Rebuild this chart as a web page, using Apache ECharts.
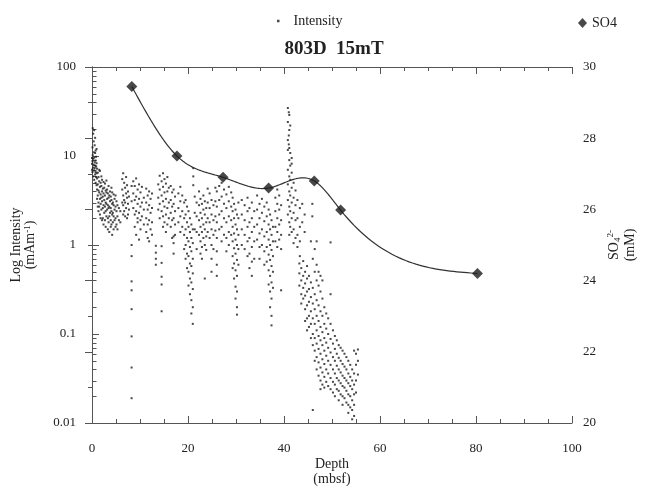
<!DOCTYPE html>
<html><head><meta charset="utf-8">
<script src="https://cdn.jsdelivr.net/npm/echarts@6/dist/echarts.min.js"></script>
<style>html,body{margin:0;padding:0;background:#fff}#c{width:668px;height:492px}</style>
</head><body><div id="c"></div>
<script>
// SO4 pore-water profile (depth mbsf, mM)
const so4Depth = [8.3, 17.7, 27.3, 36.8, 46.3, 51.8, 80.3];
const so4Values = [29.45, 27.5, 26.9, 26.6, 26.8, 25.98, 24.2];

// Minor tick values of the log axis (2..9 per decade)
const logMinorTicks = [0.02, 0.03, 0.04, 0.05, 0.06, 0.07, 0.08, 0.09,
  0.2, 0.3, 0.4, 0.5, 0.6, 0.7, 0.8, 0.9, 2, 3, 4, 5, 6, 7, 8, 9,
  20, 30, 40, 50, 60, 70, 80, 90];

// Intensity rows: [depth, value, value, ...] (mAm^-1)
const intensityNearSurface = [
  [0.0, 9.5, 8.2, 7.0], [0.1, 12.5, 8.8, 6.6], [0.15, 20.5, 10.2], [0.25, 17.8, 9.3, 7.4, 5.9],
  [0.35, 14.6, 11.0, 8.0], [0.45, 19.5, 9.6, 6.9, 5.4], [0.55, 13.2, 8.5, 7.3], [0.65, 16.0, 10.8, 7.8, 6.2],
  [0.75, 11.5, 8.9, 6.6, 5.0], [0.85, 9.8, 7.6, 5.8], [0.95, 12.0, 8.3, 6.4, 4.7], [1.05, 7.2, 5.6, 4.2, 3.3],
  [1.2, 6.5, 4.8, 3.6, 2.7], [1.35, 5.8, 4.1, 3.0, 2.4], [1.5, 7.0, 5.2, 3.9, 2.7], [1.65, 6.8, 4.5, 3.3, 2.2],
  [1.8, 5.0, 3.7, 2.9, 2.0], [1.95, 5.9, 4.6, 3.4, 2.5], [2.1, 5.4, 4.0, 3.1, 1.9], [2.25, 4.3, 3.5, 2.6, 2.0],
  [2.4, 5.1, 3.8, 2.8, 1.7], [2.55, 4.4, 3.2, 2.3], [2.7, 4.9, 3.6, 2.7, 1.9], [2.85, 4.1, 3.0, 2.4, 1.6],
  [3.0, 5.3, 3.9, 2.9, 2.1], [3.15, 4.2, 3.3, 2.5], [3.3, 3.8, 2.8, 2.0, 1.5], [3.45, 4.6, 3.4, 2.6, 1.8],
  [3.6, 3.6, 2.7, 2.1, 1.4], [3.75, 4.0, 3.1, 2.3], [3.9, 3.5, 2.6, 1.9, 1.6], [4.05, 4.4, 3.2, 2.4, 1.7],
  [4.2, 3.9, 2.9, 2.2, 1.3], [4.35, 3.0, 2.3, 1.8], [4.5, 3.7, 2.8, 2.1, 1.5], [4.7, 3.3, 2.5, 1.9],
  [4.9, 3.6, 2.7, 2.0, 1.6], [5.1, 3.1, 2.4, 1.7], [5.3, 2.8, 2.1, 1.5], [5.6, 2.6, 1.9], [5.9, 2.4, 1.8],
  [6.3, 5.5, 4.2, 3.0], [6.5, 6.4, 3.6, 2.8, 2.2], [6.7, 5.0, 3.2, 2.4], [6.9, 4.4, 3.0, 2.1],
  [7.1, 5.8, 3.8, 2.6], [7.3, 4.7, 3.4, 2.0], [7.5, 4.0, 2.9, 2.2], [7.7, 3.5, 2.5],
  [8.25, 4.6, 3.1, 1.0, 0.75, 0.39, 0.31, 0.19, 0.094, 0.042, 0.019]
];
const intensityUpper = [
  [8.6, 5.2, 3.8, 2.6], [8.9, 4.6, 3.2, 2.2, 1.6], [9.2, 5.6, 3.5, 2.4, 1.3], [9.5, 4.2, 2.9, 2.0, 1.8],
  [9.8, 4.8, 3.3, 2.3, 1.15], [10.1, 3.9, 2.7, 1.9, 1.5], [10.4, 4.5, 3.0, 2.1], [10.8, 3.4, 2.5, 1.7],
  [11.3, 4.3, 3.0, 2.0, 1.4], [11.6, 3.6, 2.5, 1.7, 1.2], [11.9, 4.0, 2.8, 1.9, 1.1], [12.2, 3.3, 2.3, 1.5],
  [12.5, 3.8, 2.6, 1.8, 1.3], [13.3, 0.98, 0.82, 0.7, 0.6], [13.8, 4.8, 3.4, 2.5], [14.1, 6.0, 4.2, 2.9, 2.0],
  [14.5, 5.2, 3.6, 2.4, 0.97, 0.63, 0.44, 0.36, 0.18], [14.8, 6.4, 4.5, 3.1, 2.1, 1.6], [15.1, 5.5, 3.9, 2.7, 1.8],
  [15.4, 4.9, 3.3, 2.2, 1.4], [15.7, 5.8, 4.0, 2.6, 1.7], [16.0, 4.4, 3.0, 2.0], [16.4, 4.6, 3.2, 2.3, 1.6],
  [16.7, 3.9, 2.7, 1.9, 1.2], [17.0, 4.2, 2.9, 2.0, 1.25, 1.05, 0.8], [17.3, 3.5, 2.4, 1.7, 1.3],
  [18.0, 3.8, 2.6, 1.8], [18.4, 4.5, 3.1, 2.1, 1.4], [18.8, 3.6, 2.4, 1.6], [19.2, 3.0, 2.0, 1.3, 0.9],
  [19.5, 3.2, 2.2, 1.5, 1.0, 0.7], [19.8, 2.7, 1.8, 1.2, 0.8, 0.55], [20.1, 2.4, 1.6, 1.1, 0.75, 0.5, 0.35],
  [20.4, 2.0, 1.4, 0.95, 0.62, 0.42, 0.28], [20.7, 1.7, 1.2, 0.85, 0.58, 0.38, 0.24, 0.17],
  [21.0, 1.5, 1.05, 0.7, 0.48, 0.32, 0.2, 0.13], [21.1, 7.3, 5.9, 4.7], [21.4, 3.5, 2.3, 1.5],
  [21.8, 3.0, 2.1, 1.4, 0.9], [22.3, 4.0, 2.8, 1.9, 1.3], [22.6, 3.3, 2.3, 1.6, 1.1, 0.8],
  [22.9, 2.9, 2.0, 1.4, 0.95, 0.7], [23.2, 3.6, 2.5, 1.7, 1.2], [23.5, 3.1, 2.2, 1.5, 1.0, 0.42],
  [23.8, 2.6, 1.8, 1.25, 0.88], [24.1, 4.3, 3.0, 2.0, 1.4], [24.5, 3.8, 2.6, 1.8, 1.2],
  [24.9, 3.2, 2.2, 1.5, 1.0, 0.7, 0.5], [25.3, 2.8, 1.9, 1.3, 0.9], [25.7, 4.4, 3.1, 2.1, 1.45],
  [26.0, 4.0, 2.7, 1.8, 1.2, 0.85, 0.6, 0.45], [26.5, 4.6, 3.2, 2.2, 1.5], [27.0, 5.0, 3.5, 2.4, 1.6, 1.1],
  [27.5, 4.2, 2.9, 2.0, 1.3], [28.0, 3.7, 2.6, 1.8, 1.2, 0.85], [28.5, 4.5, 3.1, 2.1, 1.4, 1.0],
  [29.0, 3.9, 2.7, 1.9, 1.3], [29.3, 3.4, 2.4, 1.6, 1.1, 0.75, 0.55], [29.6, 2.9, 2.0, 1.35, 0.92, 0.62, 0.42],
  [29.9, 2.5, 1.7, 1.15, 0.8, 0.52, 0.34, 0.25], [30.2, 2.2, 1.5, 1.0, 0.68, 0.45, 0.3, 0.2, 0.165],
  [30.5, 3.0, 2.0, 1.3, 0.9, 0.6]
];
const intensityMiddle = [
  [31.2, 3.2, 2.2, 1.5, 1.0], [31.8, 2.8, 1.9, 1.3, 0.9], [32.4, 3.4, 2.4, 1.6, 1.1, 0.75],
  [32.8, 2.6, 1.8, 1.2, 0.8, 0.55], [33.3, 3.0, 2.0, 1.4, 0.95, 0.65, 0.45], [33.8, 2.4, 1.6, 1.1, 0.7],
  [34.4, 3.6, 2.5, 1.7, 1.15], [34.9, 2.9, 2.0, 1.35, 0.95, 0.7], [35.4, 3.3, 2.3, 1.5, 1.0],
  [35.9, 2.7, 1.85, 1.25, 0.85, 0.6], [36.4, 3.0, 2.1, 1.4, 0.95, 0.65], [36.8, 2.5, 1.7, 1.15, 0.78, 0.52, 0.36],
  [37.1, 2.2, 1.5, 1.0, 0.68, 0.45, 0.3, 0.2], [37.4, 1.9, 1.3, 0.88, 0.58, 0.38, 0.25, 0.16, 0.125],
  [37.7, 1.6, 1.1, 0.75, 0.5, 0.33], [38.2, 3.4, 2.4, 1.6, 1.1], [38.6, 4.2, 2.9, 2.0, 1.4, 0.95],
  [39.0, 3.6, 2.5, 1.7, 1.15], [39.4, 2.8, 1.9, 1.3, 0.9, 0.31],
  [40.8, 34.6, 24.1, 15.1, 11.7, 7.0, 4.8, 3.2, 2.2], [41.0, 31.0, 17.0, 13.5],
  [41.1, 28.9, 19.6, 12.3, 9.0, 5.9, 4.0, 2.7, 1.8, 1.3], [41.3, 22.0, 10.8, 7.8, 5.4, 3.6, 2.4, 1.6],
  [41.6, 9.5, 8.2, 6.5, 4.4, 3.0, 2.0, 1.4], [42.0, 5.0, 3.4, 2.3, 1.5, 1.05], [42.4, 4.1, 2.8, 1.9, 1.2],
  [42.8, 3.2, 2.0, 1.3, 0.95], [43.3, 2.6, 1.6, 1.1, 0.75], [43.8, 2.9, 1.8], [44.3, 2.2, 1.4], [45.9, 2.9, 2.1]
];
const intensityDeep = [
  [43.2, 0.62, 0.48, 0.35], [43.6, 0.55, 0.4, 0.28, 0.22], [44.0, 0.66, 0.45, 0.33, 0.25],
  [44.4, 0.5, 0.37, 0.27, 0.19, 0.14], [44.8, 0.58, 0.42, 0.3, 0.21, 0.15, 0.11],
  [45.2, 0.45, 0.32, 0.23, 0.16, 0.12], [45.6, 1.1, 0.38, 0.26, 0.18, 0.13, 0.09],
  [46.0, 0.7, 0.33, 0.22, 0.15, 0.1, 0.075, 0.014], [46.4, 0.9, 0.5, 0.28, 0.19, 0.13, 0.09, 0.065, 0.05],
  [46.8, 1.1, 0.6, 0.4, 0.24, 0.16, 0.11, 0.078, 0.055, 0.04], [47.2, 0.5, 0.35, 0.21, 0.14, 0.095, 0.068, 0.048, 0.034],
  [47.6, 0.45, 0.3, 0.18, 0.12, 0.085, 0.06, 0.042, 0.03, 0.024], [48.0, 0.4, 0.25, 0.16, 0.105, 0.075, 0.052, 0.037, 0.027],
  [48.4, 0.2, 0.13, 0.09, 0.065, 0.046, 0.033, 0.025], [48.8, 0.17, 0.115, 0.08, 0.057, 0.04, 0.029],
  [49.2, 0.15, 0.1, 0.07, 0.05, 0.036, 0.026], [49.7, 1.07, 0.28, 0.13, 0.088, 0.062, 0.045, 0.032, 0.024],
  [50.2, 0.11, 0.078, 0.055, 0.04, 0.029, 0.022], [50.6, 0.095, 0.068, 0.05, 0.036, 0.027, 0.02],
  [51.0, 0.085, 0.06, 0.044, 0.032, 0.024], [51.4, 0.075, 0.054, 0.04, 0.03, 0.023, 0.018],
  [51.8, 0.07, 0.05, 0.037, 0.028, 0.021], [52.2, 0.065, 0.046, 0.034, 0.026, 0.02, 0.016],
  [52.6, 0.06, 0.043, 0.032, 0.025, 0.019], [53.0, 0.055, 0.04, 0.03, 0.023, 0.017],
  [53.4, 0.05, 0.036, 0.028, 0.021, 0.016, 0.013], [53.8, 0.045, 0.033, 0.026, 0.02, 0.015],
  [54.2, 0.04, 0.03, 0.024, 0.018, 0.014, 0.011], [54.6, 0.065, 0.036, 0.027, 0.021, 0.016, 0.012],
  [55.0, 0.06, 0.045, 0.03, 0.022], [55.4, 0.067, 0.05, 0.035]
];

function expandRows(rows) {
  const out = [];
  rows.forEach(r => { for (let i = 1; i < r.length; i++) out.push([r[0], r[i]]); });
  return out;
}
const intensityData = [].concat(
  expandRows(intensityNearSurface), expandRows(intensityUpper),
  expandRows(intensityMiddle), expandRows(intensityDeep)
);
const so4Data = so4Depth.map((d, i) => [d, so4Values[i]]);

// Natural cubic spline second derivatives through the SO4 points (for drawing the curve)
function splineM(xs, ys) {
  const n = xs.length, h = [], M = new Array(n).fill(0);
  for (let i = 0; i < n - 1; i++) h.push(xs[i + 1] - xs[i]);
  const a = [], b = [], c = [], r = [];
  for (let i = 1; i < n - 1; i++) {
    a.push(h[i - 1]); b.push(2 * (h[i - 1] + h[i])); c.push(h[i]);
    r.push(6 * ((ys[i + 1] - ys[i]) / h[i] - (ys[i] - ys[i - 1]) / h[i - 1]));
  }
  const m = b.length;
  for (let i = 1; i < m; i++) {
    const f = a[i] / b[i - 1];
    b[i] -= f * c[i - 1]; r[i] -= f * r[i - 1];
  }
  const sol = new Array(m);
  sol[m - 1] = r[m - 1] / b[m - 1];
  for (let i = m - 2; i >= 0; i--) sol[i] = (r[i] - c[i] * sol[i + 1]) / b[i];
  for (let i = 0; i < m; i++) M[i + 1] = sol[i];
  return { M, h };
}
const spl = splineM(so4Depth, so4Values);
function splineAt(i, x) {
  const x0 = so4Depth[i], x1 = so4Depth[i + 1], h = spl.h[i];
  const A = (x1 - x) / h, B = (x - x0) / h;
  return A * so4Values[i] + B * so4Values[i + 1] +
    ((A * A * A - A) * spl.M[i] + (B * B * B - B) * spl.M[i + 1]) * h * h / 6;
}

const FONT = 'Liberation Serif';
const INK = '#222';
const AXIS = '#555';

const chart = echarts.init(document.getElementById('c'), null, { renderer: 'canvas' });
const baseTick = { show: true, inside: true, length: 7, lineStyle: { color: AXIS } };
const baseMinor = { show: true, length: 4, lineStyle: { color: AXIS } };
chart.setOption({
  animation: false,
  backgroundColor: '#fff',
  title: {
    text: '803D  15mT', left: 'center', top: 35,
    textStyle: { fontFamily: FONT, fontSize: 19, fontWeight: 'bold', color: INK }
  },
  legend: [
    { data: ['Intensity'], left: 272, top: 9, icon: 'rect', itemWidth: 2.5, itemHeight: 2.5,
      textStyle: { fontFamily: FONT, fontSize: 14, color: INK, padding: [0, 0, 0, 9] } },
    { data: ['SO4'], left: 573, top: 11, icon: 'diamond', itemWidth: 9, itemHeight: 10,
      textStyle: { fontFamily: FONT, fontSize: 14, color: INK } }
  ],
  grid: { left: 92, right: 96, top: 67, bottom: 69, containLabel: false, outerBoundsMode: 'none' },
  xAxis: [
    { type: 'value', min: 0, max: 100, interval: 20, position: 'bottom',
      name: 'Depth\n(mbsf)', nameLocation: 'middle', nameGap: 34, nameMoveOverlap: false,
      nameTextStyle: { fontFamily: FONT, fontSize: 14, color: INK, lineHeight: 15 },
      axisLine: { show: true, lineStyle: { color: AXIS } },
      axisTick: baseTick, minorTick: Object.assign({ splitNumber: 4 }, baseMinor),
      axisLabel: { fontFamily: FONT, fontSize: 13, color: INK, margin: 19 },
      splitLine: { show: false } },
    { type: 'value', min: 0, max: 100, interval: 20, position: 'top',
      axisLine: { show: true, lineStyle: { color: AXIS } },
      axisTick: baseTick, minorTick: Object.assign({ splitNumber: 4 }, baseMinor),
      axisLabel: { show: false }, splitLine: { show: false } }
  ],
  yAxis: [
    { type: 'log', logBase: 10, min: 0.01, max: 100, position: 'left',
      name: 'Log Intensity\n(mAm{sup|-1})', nameLocation: 'middle', nameGap: 55, nameRotate: 90,
      nameMoveOverlap: false,
      nameTextStyle: { fontFamily: FONT, fontSize: 14, color: INK, lineHeight: 14,
        rich: { sup: { fontFamily: FONT, fontSize: 9, color: INK, verticalAlign: 'top', lineHeight: 14 } } },
      axisLine: { show: true, lineStyle: { color: AXIS } },
      axisTick: baseTick, minorTick: { show: false },
      axisLabel: { fontFamily: FONT, fontSize: 13, color: INK, margin: 16,
        formatter: v => String(parseFloat(Number(v).toPrecision(6))) },
      splitLine: { show: false } },
    { type: 'value', min: 20, max: 30, interval: 2, position: 'right',
      name: 'SO{sub|4}{sup|2-}\n(mM)', nameLocation: 'middle', nameGap: 34, nameRotate: 90,
      nameMoveOverlap: false,
      nameTextStyle: { fontFamily: FONT, fontSize: 14, color: INK, lineHeight: 16,
        rich: {
          sub: { fontFamily: FONT, fontSize: 9, color: INK, verticalAlign: 'bottom', lineHeight: 16 },
          sup: { fontFamily: FONT, fontSize: 9, color: INK, verticalAlign: 'top', lineHeight: 16 }
        } },
      axisLine: { show: true, lineStyle: { color: AXIS } },
      axisTick: baseTick, minorTick: Object.assign({ splitNumber: 2 }, baseMinor),
      axisLabel: { fontFamily: FONT, fontSize: 13, color: INK, margin: 11 },
      splitLine: { show: false } }
  ],
  series: [
    { name: 'logMinor', type: 'custom', xAxisIndex: 0, yAxisIndex: 0, silent: true, z: 1,
      data: logMinorTicks.map(v => [0, v]),
      renderItem: (params, api) => {
        const p = api.coord([0, api.value(1)]);
        const x = Math.round(p[0]) + 0.5, y = Math.round(p[1]) + 0.5;
        return { type: 'line', shape: { x1: x, y1: y, x2: x + 4, y2: y },
          style: { stroke: AXIS, lineWidth: 1 } };
      } },
    { name: 'Intensity', type: 'scatter', xAxisIndex: 0, yAxisIndex: 0, data: intensityData,
      symbol: 'rect', symbolSize: 2, itemStyle: { color: '#1a1a1a' }, silent: true, z: 2 },
    { name: 'SO4 curve', type: 'custom', xAxisIndex: 0, yAxisIndex: 1, silent: true, z: 3,
      data: so4Data,
      renderItem: (params, api) => {
        const i = params.dataIndex;
        if (i >= so4Depth.length - 1) return null;
        const pts = [], steps = 40;
        for (let k = 0; k <= steps; k++) {
          const x = so4Depth[i] + (so4Depth[i + 1] - so4Depth[i]) * k / steps;
          pts.push(api.coord([x, splineAt(i, x)]));
        }
        return { type: 'polyline', shape: { points: pts },
          style: { stroke: '#333', lineWidth: 1.2, fill: null } };
      } },
    { name: 'SO4', type: 'scatter', xAxisIndex: 0, yAxisIndex: 1, data: so4Data,
      symbol: 'diamond', symbolSize: 11, itemStyle: { color: '#1a1a1a' }, silent: true, z: 4 }
  ]
});
</script></body></html>
